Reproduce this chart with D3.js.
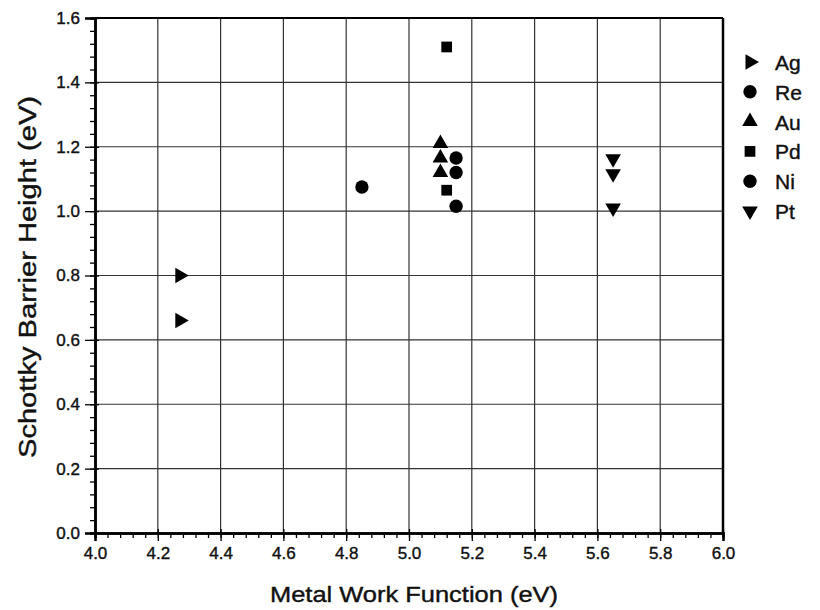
<!DOCTYPE html>
<html>
<head>
<meta charset="utf-8">
<script src="https://cdn.jsdelivr.net/npm/d3@7"></script>
<style>
  body { margin: 0; background: #fff; }
  text { font-family: "Liberation Sans", Arial, sans-serif; fill: #111; stroke: #111; stroke-width: 0.4; }
</style>
</head>
<body>
<svg></svg>
<script>
// metals in legend order
const metals = ["Ag", "Re", "Au", "Pd", "Ni", "Pt"];
const shapes = ["right", "circle", "up", "square", "circle", "down"];

// work function (eV) and barrier height (eV) for each metal
const agX = [4.27, 4.27];
const agY = [0.80, 0.66];
const reX = [4.85];
const reY = [1.075];
const auX = [5.10, 5.10, 5.10];
const auY = [1.21, 1.165, 1.12];
const pdX = [5.12, 5.12];
const pdY = [1.51, 1.065];
const niX = [5.15, 5.15, 5.15];
const niY = [1.165, 1.12, 1.015];
const ptX = [5.65, 5.65, 5.65];
const ptY = [1.163, 1.116, 1.01];

const xTicks = [4.0, 4.2, 4.4, 4.6, 4.8, 5.0, 5.2, 5.4, 5.6, 5.8, 6.0];
const yTicks = [0.0, 0.2, 0.4, 0.6, 0.8, 1.0, 1.2, 1.4, 1.6];

const W = 820, H = 610;
const margin = { left: 95, right: 97, top: 18, bottom: 77 };
let svg = d3.select("svg").attr("width", W).attr("height", H);

let x = d3.scaleLinear().domain([4.0, 6.0]).range([margin.left, W - margin.right]);
let y = d3.scaleLinear().domain([0, 1.6]).range([H - margin.bottom, margin.top]);

// grid
let grid = svg.append("g").style("stroke", "#333").style("stroke-width", 1.2);
grid.selectAll(".gx").data(xTicks.slice(1, -1)).enter().append("line")
  .attr("x1", d => x(d)).attr("x2", d => x(d))
  .attr("y1", y(0)).attr("y2", y(1.6));
grid.selectAll(".gy").data(yTicks.slice(1, -1)).enter().append("line")
  .attr("x1", x(4)).attr("x2", x(6))
  .attr("y1", d => y(d)).attr("y2", d => y(d));

// frame top/right
svg.append("line").attr("x1", x(4)).attr("x2", x(6)).attr("y1", y(1.6)).attr("y2", y(1.6))
  .style("stroke", "#000").style("stroke-width", 2);
svg.append("line").attr("x1", x(6)).attr("x2", x(6)).attr("y1", y(1.6)).attr("y2", y(0))
  .style("stroke", "#000").style("stroke-width", 2.5);

// axes
let xMinor = d3.range(4.0, 6.0001, 0.04);
let yMinor = d3.range(0, 1.6001, 0.04);

let xAxis = svg.append("g").attr("transform", `translate(0,${y(0)})`)
  .call(d3.axisBottom(x).tickValues(xMinor).tickSize(5).tickFormat(""));
xAxis.append("g").call(d3.axisBottom(x).tickValues(xTicks).tickSize(8).tickPadding(6).tickFormat(d3.format(".1f")));
xAxis.selectAll(".tick line").style("stroke", "#000").style("stroke-width", 1.3);
xAxis.selectAll("g > g .tick line").attr("y1", -4);
xAxis.selectAll(".domain").style("stroke", "#000").style("stroke-width", 2.5);
xAxis.selectAll("text").style("font-size", "17px").style("fill", "#111");

let yAxis = svg.append("g").attr("transform", `translate(${x(4)},0)`)
  .call(d3.axisLeft(y).tickValues(yMinor).tickSize(5).tickFormat(""));
yAxis.append("g").call(d3.axisLeft(y).tickValues(yTicks).tickSize(10).tickPadding(5).tickFormat(d3.format(".1f")));
yAxis.selectAll(".tick line").style("stroke", "#000").style("stroke-width", 1.3);
yAxis.selectAll("g > g .tick line").attr("x1", 4);
yAxis.selectAll(".domain").style("stroke", "#000").style("stroke-width", 2.5);
yAxis.selectAll("text").style("font-size", "17px").style("fill", "#111");

// titles
svg.append("text").attr("x", 414).attr("y", 602).attr("text-anchor", "middle")
  .attr("textLength", 288).attr("lengthAdjust", "spacingAndGlyphs")
  .style("font-size", "22px").text("Metal Work Function (eV)");
svg.append("text").attr("transform", `translate(36,277) rotate(-90)`)
  .attr("text-anchor", "middle")
  .attr("textLength", 362).attr("lengthAdjust", "spacingAndGlyphs")
  .style("font-size", "23px").text("Schottky Barrier Height (eV)");

// markers
function symbolPath(shape) {
  if (shape === "circle") return d3.symbol().type(d3.symbolCircle).size(140)();
  if (shape === "square") return d3.symbol().type(d3.symbolSquare).size(115)();
  return d3.symbol().type(d3.symbolTriangle).size(105)();
}
function symbolRotate(shape) {
  if (shape === "right") return 90;
  if (shape === "down") return 180;
  return 0;
}

const seriesX = [agX, reX, auX, pdX, niX, ptX];
const seriesY = [agY, reY, auY, pdY, niY, ptY];

metals.forEach((m, i) => {
  let pts = seriesX[i].map((v, j) => ({ x: v, y: seriesY[i][j] }));
  svg.append("g").selectAll("path").data(pts).enter().append("path")
    .attr("d", symbolPath(shapes[i]))
    .attr("transform", d => `translate(${x(d.x)},${y(d.y)}) rotate(${symbolRotate(shapes[i])})`)
    .style("fill", "#000");
});

// legend
let legend = svg.append("g");
metals.forEach((m, i) => {
  let ly = 62 + i * 29.8;
  legend.append("path").attr("d", symbolPath(shapes[i]))
    .attr("transform", `translate(750,${ly}) rotate(${symbolRotate(shapes[i])})`)
    .style("fill", "#000");
  legend.append("text").attr("x", 775).attr("y", ly + 8).style("font-size", "21px").text(m);
});
</script>
</body>
</html>
